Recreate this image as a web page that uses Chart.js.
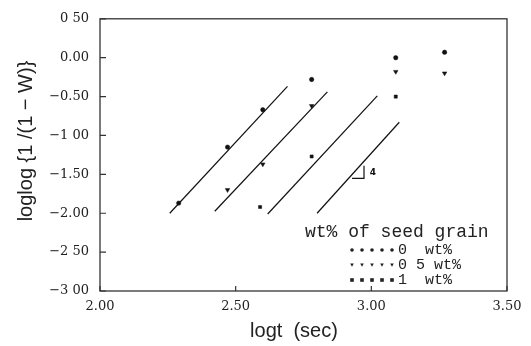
<!DOCTYPE html>
<html>
<head>
<meta charset="utf-8">
<script src="https://cdn.jsdelivr.net/npm/chart.js@4"></script>
<style>
  body { margin: 0; background: #fff; }
  #wrap { width: 531px; height: 346px; }
</style>
</head>
<body>
<div id="wrap"><canvas id="chart" width="531" height="346"></canvas></div>
<script>
// axis ticks
const xTicks = [2.0, 2.5, 3.0, 3.5];
const xTickLabels = ["2.00", "2.50", "3.00", "3.50"];
const yTicks = [0.5, 0, -0.5, -1, -1.5, -2, -2.5, -3];
const yTickLabels = ["0 50", "0.00", "\u22120.50", "\u22121 00", "\u22121.50", "\u22122.00", "\u22122 50", "\u22123 00"];

// measured points, one pair of arrays per seed grain content
const seriesNames = ["0  wt%", "0 5 wt%", "1  wt%"];
const logt0 = [2.29, 2.47, 2.60, 2.78, 3.09, 3.27];
const loglog0 = [-1.87, -1.15, -0.67, -0.28, 0.00, 0.07];
const logt05 = [2.47, 2.60, 2.78, 3.09, 3.27];
const loglog05 = [-1.70, -1.37, -0.62, -0.18, -0.20];
const logt1 = [2.59, 2.78, 3.09];
const loglog1 = [-1.92, -1.27, -0.50];

// fitted straight lines (start / end)
const fitStartX = [2.257, 2.423, 2.618, 2.80];
const fitStartY = [-2.00, -1.975, -2.01, -2.00];
const fitEndX = [2.691, 2.838, 3.022, 3.103];
const fitEndY = [-0.37, -0.44, -0.49, -0.83];

// slope triangle under the last line
const triX = [2.929, 2.973, 2.973];
const triY = [-1.553, -1.553, -1.389];
const slopeMarkX = 3.006;
const slopeMarkY = -1.477;

const pts = (xs, ys) => xs.map((x, i) => ({ x: x, y: ys[i] }));

const pointStyles = [
  { pointStyle: "circle", radius: 2.2, rotation: 0 },
  { pointStyle: "triangle", radius: 2.6, rotation: 180 },
  { pointStyle: "rect", radius: 2.2, rotation: 0 },
];

const datasets = [];
[[logt0, loglog0], [logt05, loglog05], [logt1, loglog1]].forEach((s, i) => {
  datasets.push({
    type: "scatter",
    label: seriesNames[i],
    data: pts(s[0], s[1]),
    pointStyle: pointStyles[i].pointStyle,
    pointRadius: pointStyles[i].radius,
    pointRotation: pointStyles[i].rotation,
    backgroundColor: "#111",
    borderColor: "#111",
    borderWidth: 0.5,
  });
});
fitStartX.forEach((x0, i) => {
  datasets.push({
    type: "line",
    label: "fit " + i,
    data: [{ x: x0, y: fitStartY[i] }, { x: fitEndX[i], y: fitEndY[i] }],
    borderColor: "#111",
    borderWidth: 1.2,
    pointRadius: 0,
    fill: false,
  });
});
datasets.push({
  type: "line",
  label: "slope",
  data: pts(triX, triY),
  borderColor: "#111",
  borderWidth: 1.2,
  pointRadius: 0,
  fill: false,
});

// small legend marker, same shapes as the data points
function marker(ctx, style, x, y, r) {
  ctx.beginPath();
  if (style === "circle") {
    ctx.arc(x, y, r, 0, Math.PI * 2);
  } else if (style === "triangle") {
    ctx.moveTo(x - r, y - r * 0.8);
    ctx.lineTo(x + r, y - r * 0.8);
    ctx.lineTo(x, y + r);
    ctx.closePath();
  } else {
    ctx.rect(x - r, y - r, r * 2, r * 2);
  }
  ctx.fill();
}

// frame, inward ticks, titles, slope mark and the legend box
const decorPlugin = {
  id: "decor",
  afterDraw(chart) {
    const { ctx, chartArea: a, scales } = chart;
    const xs = scales.x, ys = scales.y;
    ctx.save();
    ctx.strokeStyle = "#333";
    ctx.lineWidth = 1.3;
    ctx.strokeRect(a.left, a.top, a.right - a.left, a.bottom - a.top);

    ctx.lineWidth = 1.2;
    ctx.beginPath();
    yTicks.forEach((v) => {
      const py = ys.getPixelForValue(v);
      ctx.moveTo(a.left, py);
      ctx.lineTo(a.left + 6, py);
    });
    xTicks.forEach((v) => {
      const px = xs.getPixelForValue(v);
      ctx.moveTo(px, a.bottom);
      ctx.lineTo(px, a.bottom - 5);
    });
    ctx.stroke();

    ctx.fillStyle = "#111";
    ctx.font = "bold 9px 'DejaVu Sans'";
    ctx.textAlign = "center";
    ctx.textBaseline = "middle";
    ctx.fillText("4", xs.getPixelForValue(slopeMarkX), ys.getPixelForValue(slopeMarkY));

    // axis titles
    ctx.fillStyle = "#222";
    ctx.font = "20px 'Liberation Sans'";
    ctx.fillText("logt  (sec)", 294, 331);
    ctx.save();
    ctx.translate(26, 141);
    ctx.rotate(-Math.PI / 2);
    ctx.fillText("loglog {1 /(1 \u2212 W)}", 0, 0);
    ctx.restore();

    // legend
    ctx.textAlign = "left";
    ctx.font = "18px 'Liberation Mono'";
    ctx.fillText("wt% of seed grain", 305, 232);
    ctx.font = "15px 'Liberation Mono'";
    const rowY = [250, 265, 280];
    seriesNames.forEach((name, i) => {
      for (let k = 0; k < 5; k++) {
        marker(ctx, pointStyles[i].pointStyle, 352 + k * 10, rowY[i], 1.8);
      }
      ctx.fillText(name, 398, rowY[i]);
    });
    ctx.restore();
  },
};

new Chart(document.getElementById("chart"), {
  data: { datasets: datasets },
  plugins: [decorPlugin],
  options: {
    responsive: false,
    animation: false,
    layout: { padding: { left: 0, top: 13, right: 24, bottom: 0 } },
    plugins: { legend: { display: false }, tooltip: { enabled: false } },
    scales: {
      x: {
        type: "linear",
        min: 2.0,
        max: 3.5,
        afterBuildTicks: (s) => { s.ticks = xTicks.map((v) => ({ value: v })); },
        afterFit: (s) => { s.height = 55; },
        grid: { display: false, drawTicks: false },
        border: { display: false },
        ticks: {
          padding: 8,
          autoSkip: false,
          maxRotation: 0,
          color: "#222",
          font: { family: "'DejaVu Serif'", size: 13 },
          callback: (v, i) => xTickLabels[i],
        },
      },
      y: {
        type: "linear",
        min: -3,
        max: 0.5,
        afterBuildTicks: (s) => { s.ticks = yTicks.map((v) => ({ value: v })); },
        afterFit: (s) => { s.width = 100; },
        grid: { display: false, drawTicks: false },
        border: { display: false },
        ticks: {
          padding: 11,
          autoSkip: false,
          color: "#222",
          font: { family: "'DejaVu Serif'", size: 13 },
          callback: (v, i) => yTickLabels[i],
        },
      },
    },
  },
});
</script>
</body>
</html>
